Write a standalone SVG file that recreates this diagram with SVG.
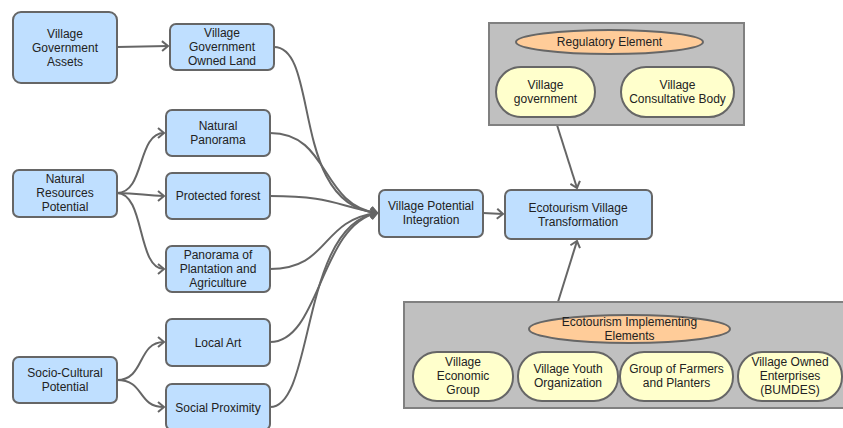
<svg xmlns="http://www.w3.org/2000/svg" width="843" height="428" viewBox="0 0 843 428">
<defs>
<marker id="arr" markerWidth="10" markerHeight="12" refX="8" refY="6" orient="auto" markerUnits="userSpaceOnUse">
<path d="M2,1 L8,6 L2,11" fill="none" stroke="#666" stroke-width="2"/>
</marker>
<style>
.n{fill:#bfdfff;stroke:#666;stroke-width:2}
.g{fill:#c0c0c0;stroke:#808080;stroke-width:2}
.e{fill:#ffcc99;stroke:#666;stroke-width:2}
.p{fill:#ffffcc;stroke:#666;stroke-width:2}
.c{fill:none;stroke:#666;stroke-width:2}
text{font-family:"Liberation Sans",Arial,sans-serif;font-size:12px;fill:#222;text-anchor:middle}
</style>
</defs>
<rect width="843" height="428" fill="#fff"/>
<g id="connectors">
<path class="c" d="M117,47 L168,46" marker-end="url(#arr)"/>
<path class="c" d="M117,193 C145,193 137,133 164,133" marker-end="url(#arr)"/>
<path class="c" d="M117,193 C140,193 145,196 164,196" marker-end="url(#arr)"/>
<path class="c" d="M117,193 C145,193 137,269 164,269" marker-end="url(#arr)"/>
<path class="c" d="M117,380 C145,380 137,342 164,342" marker-end="url(#arr)"/>
<path class="c" d="M117,380 C145,380 137,407 164,407" marker-end="url(#arr)"/>
<path class="c" d="M274,47 C320,47 290,205 377,213" marker-end="url(#arr)"/>
<path class="c" d="M270,133 C330,133 320,205 377,213" marker-end="url(#arr)"/>
<path class="c" d="M270,196 C330,196 335,205 377,213" marker-end="url(#arr)"/>
<path class="c" d="M270,269 C330,269 320,220 377,213" marker-end="url(#arr)"/>
<path class="c" d="M270,342 C320,342 320,225 377,213" marker-end="url(#arr)"/>
<path class="c" d="M270,407 C315,407 300,225 377,213" marker-end="url(#arr)"/>
<path class="c" d="M483,213 L503,214" marker-end="url(#arr)"/>
<path class="c" d="M557,125 L577,188" marker-end="url(#arr)"/>
<path class="c" d="M558,302 L577,241" marker-end="url(#arr)"/>
</g>
<g id="vga"><rect class="n" x="13" y="12" width="104" height="71" rx="8"/><text x="65" y="38">Village</text><text x="65" y="52">Government</text><text x="65" y="66">Assets</text></g>
<g id="vgol"><rect class="n" x="170" y="24" width="104" height="46" rx="6"/><text x="222" y="37">Village</text><text x="222" y="51">Government</text><text x="222" y="65">Owned Land</text></g>
<g id="nrp"><rect class="n" x="13" y="170" width="104" height="47" rx="6"/><text x="65" y="183">Natural</text><text x="65" y="197">Resources</text><text x="65" y="211">Potential</text></g>
<g id="np"><rect class="n" x="166" y="110" width="104" height="46" rx="6"/><text x="218" y="130">Natural</text><text x="218" y="144">Panorama</text></g>
<g id="pf"><rect class="n" x="166" y="173" width="104" height="46" rx="6"/><text x="218" y="200">Protected forest</text></g>
<g id="ppa"><rect class="n" x="166" y="246" width="104" height="46" rx="6"/><text x="218" y="259">Panorama of</text><text x="218" y="273">Plantation and</text><text x="218" y="287">Agriculture</text></g>
<g id="scp"><rect class="n" x="13" y="357" width="104" height="46" rx="6"/><text x="65" y="377">Socio-Cultural</text><text x="65" y="391">Potential</text></g>
<g id="la"><rect class="n" x="166" y="319" width="104" height="47" rx="6"/><text x="218" y="347">Local Art</text></g>
<g id="sp"><rect class="n" x="166" y="384" width="104" height="46" rx="6"/><text x="218" y="412">Social Proximity</text></g>
<g id="vpi"><rect class="n" x="379" y="190" width="104" height="47" rx="6"/><text x="431" y="210">Village Potential</text><text x="431" y="224">Integration</text></g>
<g id="evt"><rect class="n" x="505" y="190" width="147" height="49" rx="6"/><text x="578" y="212">Ecotourism Village</text><text x="578" y="226">Transformation</text></g>
<g id="reg"><rect class="g" x="489" y="23" width="255" height="102"/>
<ellipse class="e" cx="609.5" cy="42" rx="93.5" ry="12"/><text x="609.5" y="46">Regulatory Element</text>
<rect class="p" x="496" y="67" width="99" height="50" rx="25"/><text x="545.5" y="89">Village</text><text x="545.5" y="103">government</text>
<rect class="p" x="621" y="67" width="113" height="50" rx="25"/><text x="677.5" y="89">Village</text><text x="677.5" y="103">Consultative Body</text>
</g>
<g id="imp"><rect class="g" x="404" y="302" width="445" height="106"/>
<ellipse class="e" cx="629.5" cy="329" rx="100.5" ry="14"/><text x="629.5" y="326">Ecotourism Implementing</text><text x="629.5" y="340">Elements</text>
<rect class="p" x="413" y="352" width="100" height="49" rx="24"/><text x="463" y="366">Village</text><text x="463" y="380">Economic</text><text x="463" y="394">Group</text>
<rect class="p" x="518" y="352" width="100" height="49" rx="24"/><text x="568" y="373">Village Youth</text><text x="568" y="387">Organization</text>
<rect class="p" x="620" y="352" width="113" height="49" rx="24"/><text x="676.5" y="373">Group of Farmers</text><text x="676.5" y="387">and Planters</text>
<rect class="p" x="738" y="352" width="104" height="49" rx="24"/><text x="790" y="366">Village Owned</text><text x="790" y="380">Enterprises</text><text x="790" y="394">(BUMDES)</text>
</g>
</svg>
